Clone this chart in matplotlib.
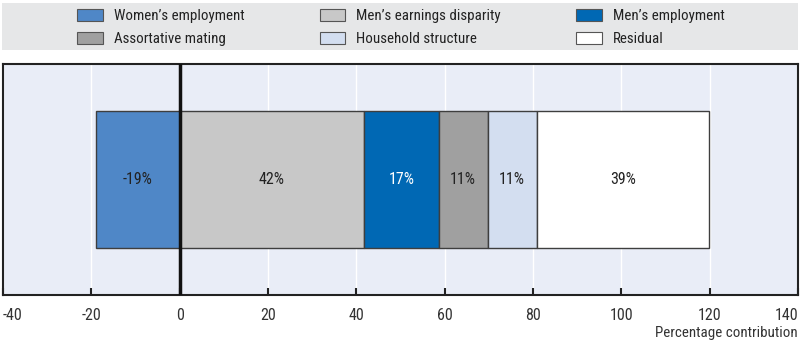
import matplotlib
matplotlib.use("Agg")
import matplotlib.pyplot as plt
from matplotlib.patches import Rectangle, Patch
from matplotlib import font_manager as fm

categories = ["Women\u2019s employment", "Men\u2019s earnings disparity", "Men\u2019s employment",
              "Assortative mating", "Household structure", "Residual"]
values = [-19.0, 41.7, 17.0, 11.0, 11.1, 39.1]
labels = ["-19%", "42%", "17%", "11%", "11%", "39%"]
colors = ["#4F87C7", "#C8C8C8", "#0068B4", "#A0A0A0", "#D3DEF0", "#FFFFFF"]
text_colors = ["#222222", "#222222", "#FFFFFF", "#222222", "#222222", "#222222"]
xticks = [-40, -20, 0, 20, 40, 60, 80, 100, 120, 140]

# find a condensed / narrow font if one exists
def find_condensed():
    prefs = ["Roboto Condensed", "Liberation Sans Narrow", "Open Sans Condensed",
             "Noto Sans Condensed", "DejaVu Sans Condensed", "Arial Narrow"]
    entries = fm.fontManager.ttflist
    for p in prefs:
        for e in entries:
            if e.name == p and e.weight in (400, "normal", "regular") and e.style == "normal":
                return e.fname, True
    for e in entries:
        fn = e.fname.lower()
        if ("condensed" in fn or "narrow" in fn) and "bold" not in fn and "italic" not in fn \
                and "oblique" not in fn and "light" not in fn and "semi" not in fn:
            return e.fname, True
    return None, False

fname, narrow = find_condensed()
SCALE = 1.0 if narrow else 0.85

def fprop(size):
    size = size * SCALE
    if fname:
        return fm.FontProperties(fname=fname, size=size)
    return fm.FontProperties(family=["Liberation Sans", "DejaVu Sans"], size=size)

W, H = 804, 344
fig = plt.figure(figsize=(W / 100, H / 100), dpi=100)

# legend background
fig.patches.append(Rectangle((2 / W, 1 - 50 / H), 796 / W, 47 / H, transform=fig.transFigure,
                             facecolor="#E6E7E8", edgecolor="none", zorder=0))

ax = fig.add_axes([3 / W, 1 - 295 / H, 795 / W, 231 / H])
ax.set_facecolor("#E9EDF7")
ax.set_xlim(-40, 140)
ax.set_ylim(-0.5, 0.5)

pos_left = 0.0
for v, lab, c, tc in zip(values, labels, colors, text_colors):
    if v < 0:
        left = v
    else:
        left = pos_left
        pos_left += v
    ax.barh(0, abs(v), left=left, height=0.59, color=c, edgecolor="#3E3E3E", linewidth=1.0, zorder=3)
    ax.text(left + abs(v) / 2, 0, lab, ha="center", va="center", color=tc, zorder=4,
            fontproperties=fprop(11.5))

ax.set_xticks(xticks)
ax.set_xticklabels([str(t) for t in xticks])
ax.set_yticks([])
ax.grid(axis="x", color="white", linewidth=1.0, zorder=1)
ax.axvline(0, color="#111111", linewidth=2.5, zorder=5)
for s in ax.spines.values():
    s.set_color("#222222")
    s.set_linewidth(1.5)
ax.tick_params(axis="x", direction="in", length=5, width=1.5, color="#222222",
               labelcolor="#333333", pad=9)
tls = ax.get_xticklabels()
for t in tls:
    t.set_fontproperties(fprop(11.5))
tls[0].set_ha("left")
tls[-1].set_ha("right")
ax.set_xlabel("Percentage contribution", color="#333333", fontproperties=fprop(10.8))
ax.xaxis.set_label_coords(1.0, -0.135)
ax.xaxis.label.set_ha("right")

handles = [Patch(facecolor=c, edgecolor="#555555", linewidth=0.8) for c in colors]
order = [0, 3, 1, 4, 2, 5]
leg = fig.legend([handles[i] for i in order], [categories[i] for i in order],
                 ncol=3, loc="upper left", bbox_to_anchor=(72.5 / W, 1 - 4.5 / H),
                 frameon=False, prop=fprop(10.8), handlelength=1.73, handleheight=0.8,
                 handletextpad=0.73, columnspacing=5.0, labelspacing=0.6,
                 borderaxespad=0, borderpad=0.3)
for t in leg.get_texts():
    t.set_color("#222222")

fig.savefig("out.png", dpi=100)
